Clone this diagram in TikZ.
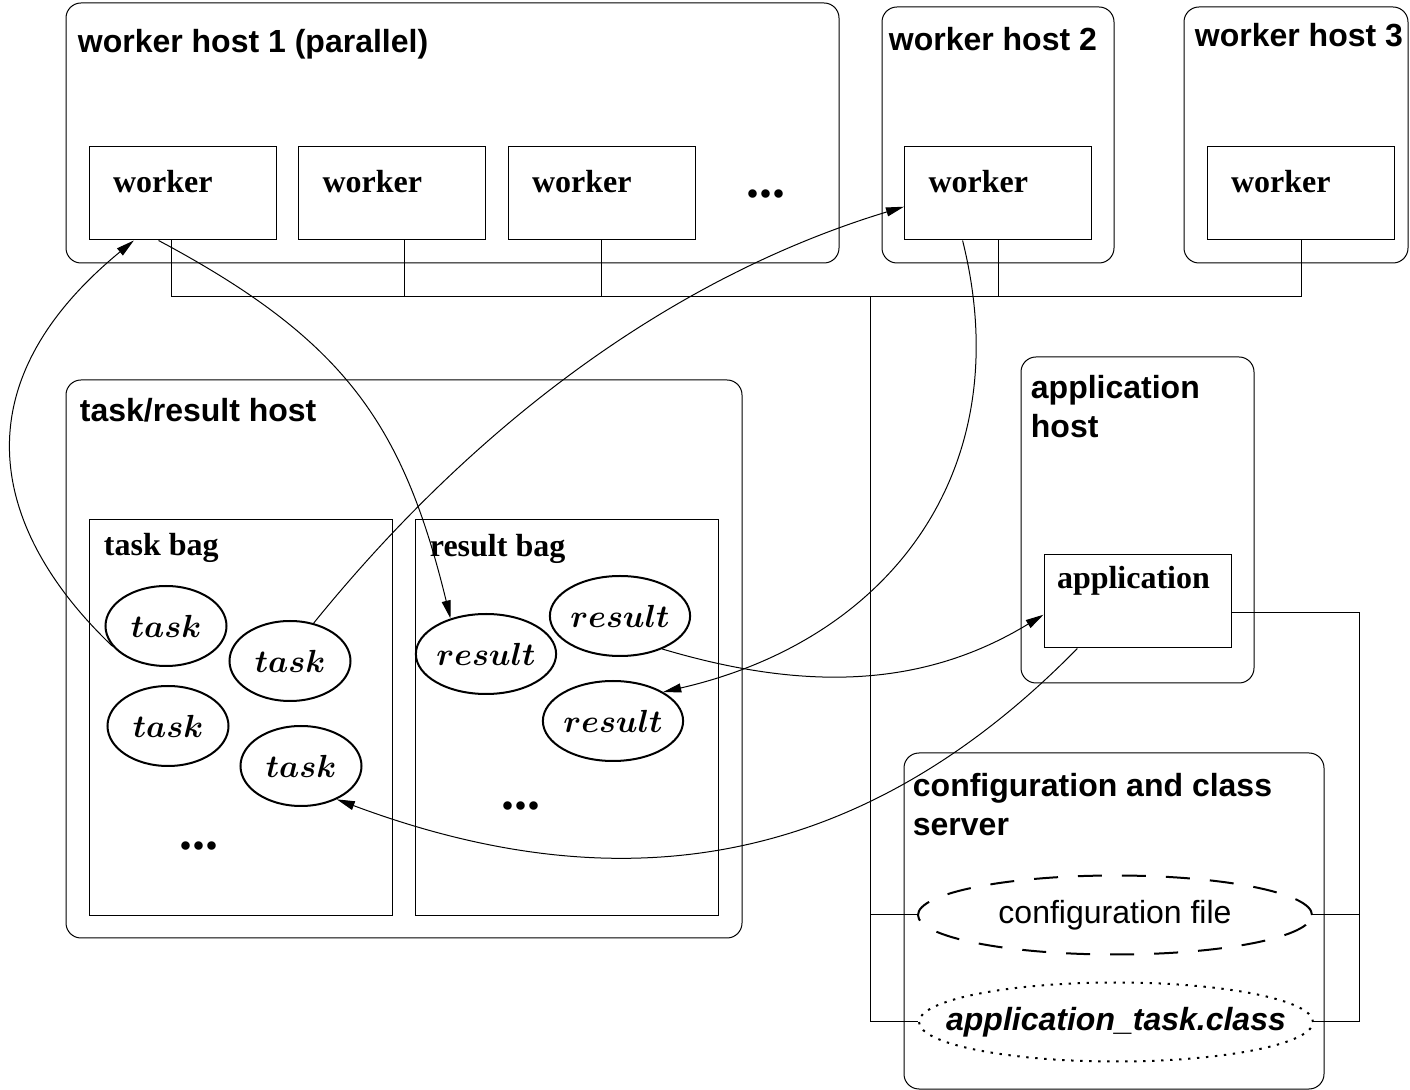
\RequirePackage{fix-cm}
\documentclass[tikz,border=0pt]{standalone}
\usepackage[no-math]{fontspec}
\setmainfont{Liberation Serif}
\newfontfamily\hostfont{Liberation Sans}
\usetikzlibrary{arrows.meta, shapes.geometric}

\tikzset{
    host/.style={draw, rounded corners=7.5pt, line width=0.5pt, inner sep=0pt},
    hosttitle/.style={anchor=base west, inner sep=0pt, align=left,
        font=\hostfont\bfseries\fontsize{16}{19.5}\selectfont},
    wbox/.style={draw, line width=0.5pt, align=left, inner xsep=12pt, inner ysep=0pt,
        text width=69.5pt, text height=23pt, text depth=23.5pt,
        font=\bfseries\fontsize{16}{19}\selectfont},
    bag/.style={draw, line width=0.5pt, inner sep=0pt, minimum width=151.5pt, minimum height=198pt},
    bagtitle/.style={anchor=base west, inner sep=0pt, font=\bfseries\fontsize{16}{19}\selectfont},
    item/.style={draw, ellipse, line width=1pt, inner sep=0pt,
        minimum width=60.5pt, minimum height=40pt, font=\fontsize{16}{19}\selectfont\boldmath},
    file/.style={draw, ellipse, line width=1pt, inner sep=0pt,
        minimum width=197pt, minimum height=39.5pt, font=\hostfont\fontsize{16}{19}\selectfont},
    more/.style={anchor=base, inner sep=0pt, font=\bfseries\fontsize{26}{26}\selectfont},
    bus/.style={line width=0.5pt},
    flow/.style={-{Triangle[length=9pt, width=4.5pt]}, line width=0.5pt},
}

\begin{document}
\begin{tikzpicture}[x=0.5pt, y=-0.5pt]
    \useasboundingbox (0,0) rectangle (1410,1090);

    % Hosts
    \node[host, minimum width=386.5pt, minimum height=130pt] (h1) at (452.5,133) {};
    \node[host, minimum width=116pt, minimum height=128pt] (h2) at (998,135) {};
    \node[host, minimum width=112pt, minimum height=128pt] (h3) at (1296,135) {};
    \node[host, minimum width=338pt, minimum height=279pt] (th) at (404,659) {};
    \node[host, minimum width=116.5pt, minimum height=163pt] (ah) at (1137.5,520) {};
    \node[host, minimum width=210pt, minimum height=168pt] (cs) at (1114,921) {};

    \node[hosttitle] (h1t) at ([shift={(12,50)}]h1.north west) {worker host 1 (parallel)};
    \node[hosttitle] (h2t) at ([shift={(7,44)}]h2.north west) {worker host 2};
    \node[hosttitle] (h3t) at ([shift={(11,40)}]h3.north west) {worker host 3};
    \node[hosttitle] (tht) at ([shift={(14,42)}]th.north west) {task/result host};
    \node[hosttitle] (aht) at ([shift={(10,81)}]ah.north west) {application\\host};
    \node[hosttitle] (cst) at ([shift={(9,83)}]cs.north west) {configuration and class\\server};

    % Workers
    \node[wbox] (w1) at (182.5,193.5) {worker};
    \node[wbox] (w2) at (392,193.5) {worker};
    \node[wbox] (w3) at (601.5,193.5) {worker};
    \node[more] (wdots) at (766,198) {...};
    \node[wbox] (w4) at (998,193.5) {worker};
    \node[wbox] (w5) at (1300.5,193.5) {worker};

    % Bags
    \node[bag] (tb) at (240.5,718) {};
    \node[bag] (rb) at (566.5,718) {};
    \node[bagtitle] (tbt) at ([shift={(15,36)}]tb.north west) {task bag};
    \node[bagtitle] (rbt) at ([shift={(15,37)}]rb.north west) {result bag};

    \node[item] (t1) at (166,626) {$task$};
    \node[item] (t2) at (290,661) {$task$};
    \node[item] (t3) at (168,726) {$task$};
    \node[item] (t4) at (301,766) {$task$};
    \node[more] (tdots) at (199,850) {...};

    \node[item] (r1) at (486,654) {$result$};
    \node[item] (r2) at (620,616) {$result$};
    \node[item] (r3) at (613,721) {$result$};
    \node[more] (rdots) at (521,810) {...};

    % Application
    \node[wbox, inner xsep=6.5pt, text width=80.5pt, text height=17pt, text depth=29.5pt]
        (app) at (1137.5,601.5) {application};

    % Files
    \node[file, dash pattern=on 12pt off 10pt] (cfg) at (1115,915) {configuration file};
    \node[file, dash pattern=on 1.2pt off 3.3pt, inner xsep=-17.5pt,
        font=\hostfont\bfseries\itshape\fontsize{16}{19}\selectfont]
        (cls) at (1116,1022) {application\_task.class};

    % Network
    \coordinate (busL) at (171,297);
    \coordinate (busR) at (1301,297);
    \coordinate (b2) at (404,297);
    \coordinate (busC) at (870,297);
    \coordinate (appR) at (1359,613);
    \draw[bus] (w1.south -| busL) -- (busL) -- (busR) -- (w5.south -| busR);
    \draw[bus] (w2.south -| b2) -- (b2);
    \draw[bus] (w3.south) -- (w3.south |- busL);
    \draw[bus] (w4.south) -- (w4.south |- busL);
    \draw[bus] (busC) |- (cfg.west);
    \draw[bus] (busC) |- (cls.west);
    \draw[bus] (appR -| app.east) -- (appR) |- (cfg.east);
    \draw[bus] (appR) |- (cls.east);

    % Flows
    \draw[flow] (t1.201) .. controls (11,550) and (-60,400) .. (w1.224);
    \draw[flow] (w1.243) .. controls (345,340) and (403,424) .. (r1.135);
    \draw[flow] (t2.58) .. controls (470,430) and (666,279) .. (w4.188);
    \draw[flow] (w4.233) .. controls (1020,470) and (890,640) .. (r3.30);
    \draw[flow] (r2.-38) .. controls (800,690) and (920,690) .. (app.188);
    \draw[flow] (app.218) .. controls (860,870) and (620,905) .. (t4.-43);
\end{tikzpicture}
\end{document}
